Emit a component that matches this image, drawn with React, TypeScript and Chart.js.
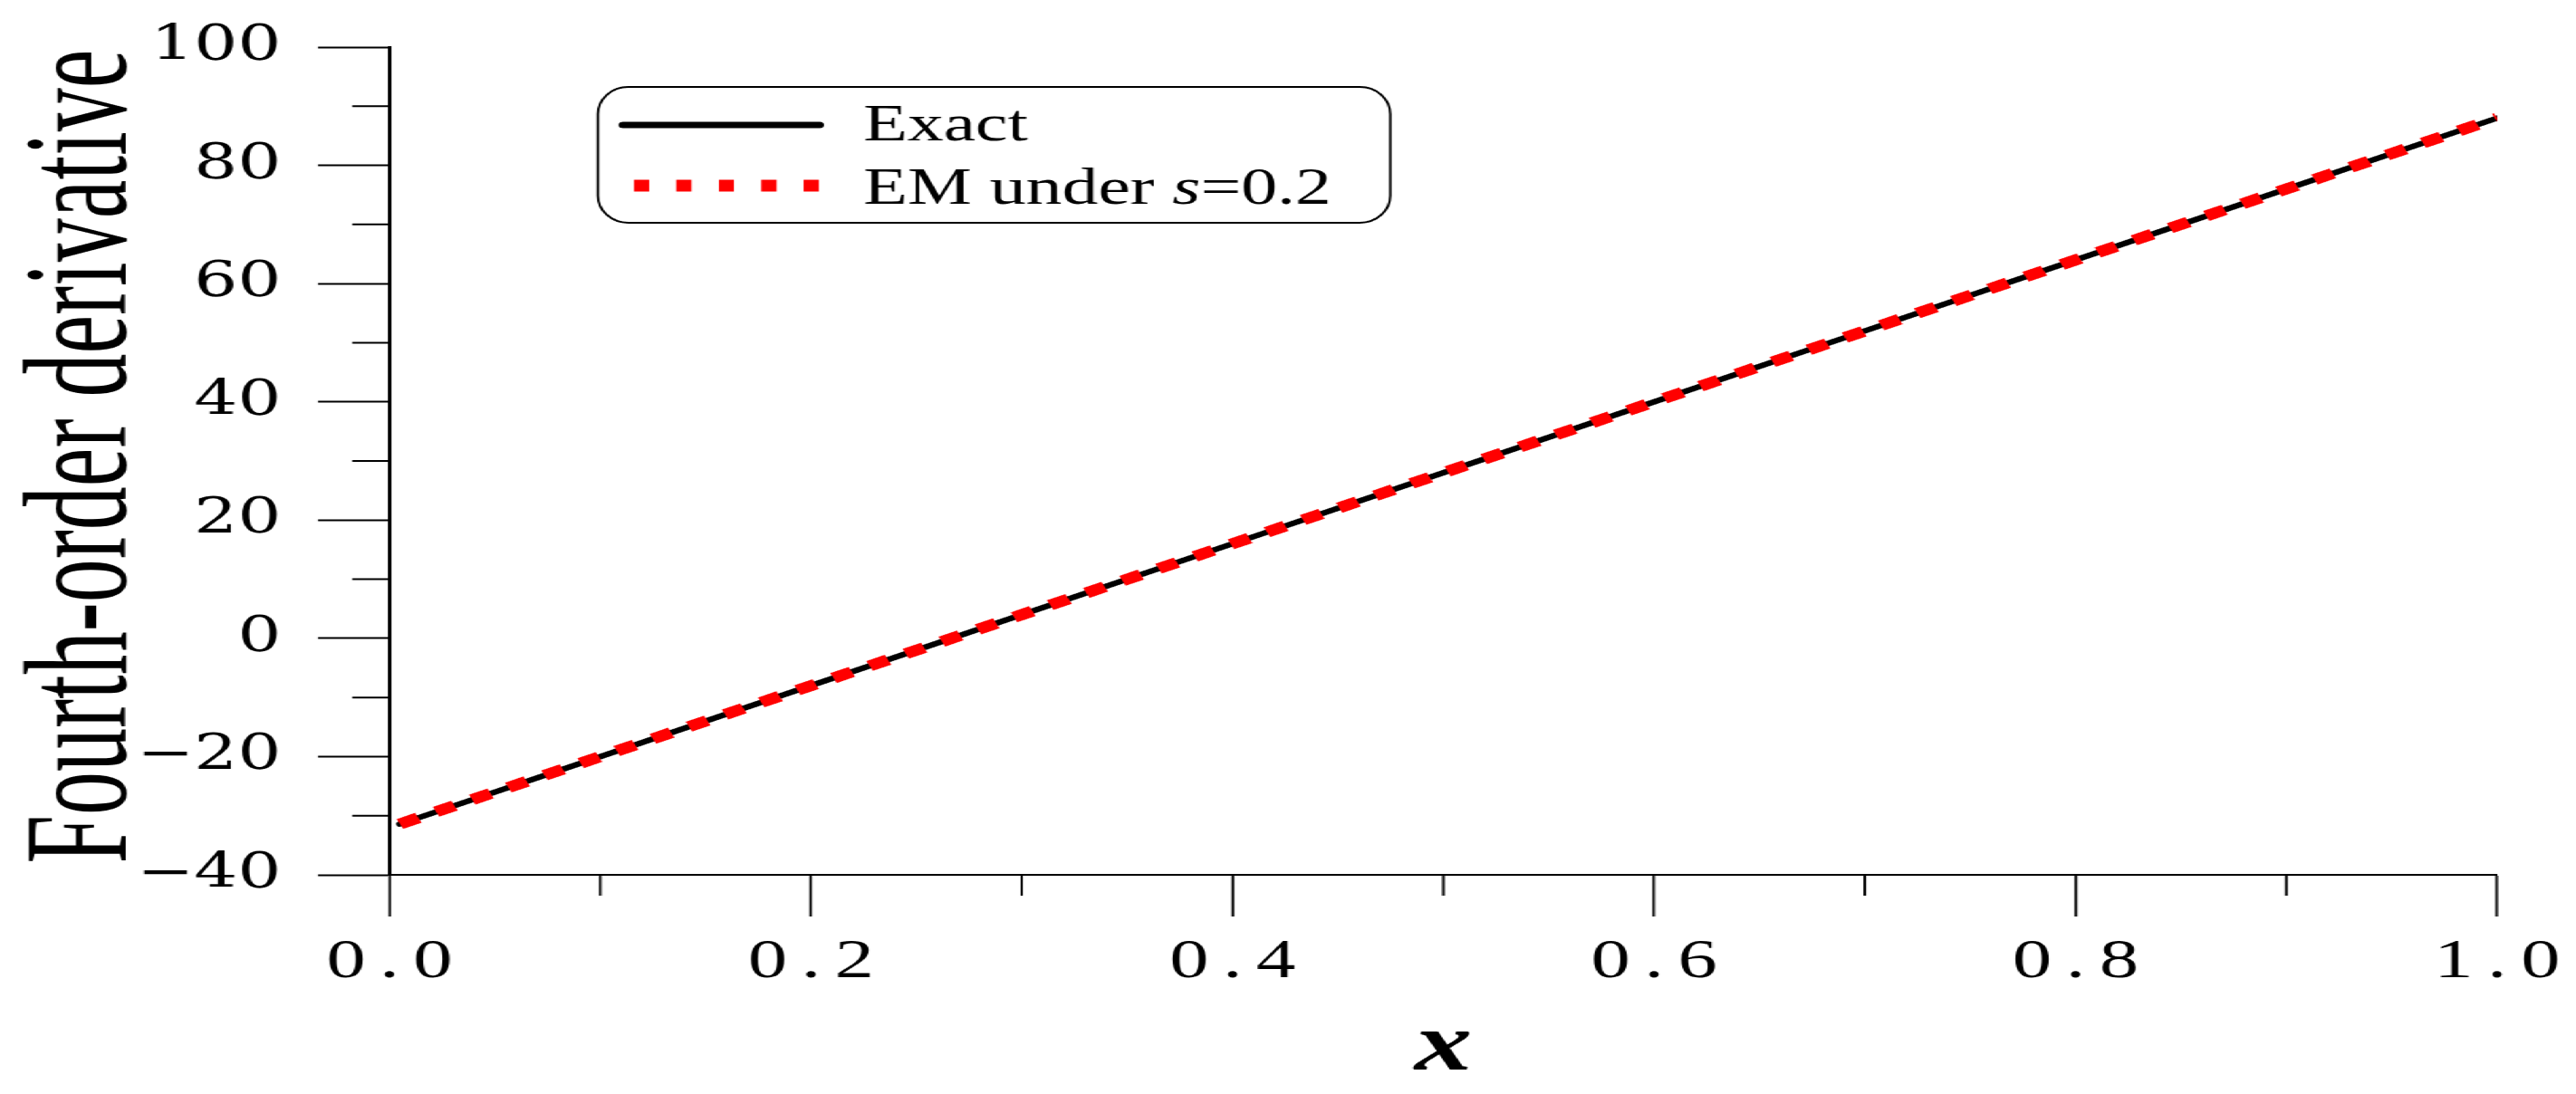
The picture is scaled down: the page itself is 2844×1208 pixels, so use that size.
import React, { useEffect, useRef } from 'react';
import { Chart, registerables } from 'chart.js';

Chart.register(...registerables);

// ---- data ----
const xValues = [0.005, 0.1, 0.2, 0.3, 0.4, 0.5, 0.6, 0.7, 0.8, 0.9, 1.0];
const exactValues = [-31.4, -20.0, -8.0, 4.0, 16.0, 28.0, 40.0, 52.0, 64.0, 76.0, 88.0];
const emValues = [-31.4, -20.0, -8.0, 4.0, 16.0, 28.0, 40.0, 52.0, 64.0, 76.0, 88.0];

const yTickValues = [-40, -20, 0, 20, 40, 60, 80, 100];
const yTickLabels = ['−40', '−20', '0', '20', '40', '60', '80', '100'];
const yMinorTicks = [-30, -10, 10, 30, 50, 70, 90];
const xTickValues = [0, 0.2, 0.4, 0.6, 0.8, 1.0];
const xTickLabels = ['0.0', '0.2', '0.4', '0.6', '0.8', '1.0'];
const xMinorTicks = [0.1, 0.3, 0.5, 0.7, 0.9];

const seriesLabels = ['Exact', 'EM under s=0.2'];
const yTitle = 'Fourth-order derivative';
const xTitle = 'x';

// ---- layout (canvas is drawn narrow and stretched horizontally like the reference) ----
const W = 2032;
const H = 1208;
const S = 2844 / W;

const X_LABEL_SPACING = 11;

function ellRoundRect(ctx: CanvasRenderingContext2D, x: number, y: number, w: number, h: number, rx: number, ry: number) {
  ctx.beginPath();
  ctx.moveTo(x + rx, y);
  ctx.lineTo(x + w - rx, y);
  ctx.ellipse(x + w - rx, y + ry, rx, ry, 0, -Math.PI / 2, 0);
  ctx.lineTo(x + w, y + h - ry);
  ctx.ellipse(x + w - rx, y + h - ry, rx, ry, 0, 0, Math.PI / 2);
  ctx.lineTo(x + rx, y + h);
  ctx.ellipse(x + rx, y + h - ry, rx, ry, 0, Math.PI / 2, Math.PI);
  ctx.lineTo(x, y + ry);
  ctx.ellipse(x + rx, y + ry, rx, ry, 0, Math.PI, Math.PI * 1.5);
  ctx.closePath();
}

const decorPlugin = {
  id: 'decor',
  afterDraw(chart: any) {
    const ctx: CanvasRenderingContext2D = chart.ctx;
    const xs = chart.scales.x;
    const ys = chart.scales.y;
    const area = chart.chartArea;
    ctx.save();
    (ctx as any).letterSpacing = '0px';

    // minor ticks
    ctx.strokeStyle = '#000';
    ctx.lineWidth = 2;
    ctx.lineCap = 'butt';
    ctx.beginPath();
    yMinorTicks.forEach((v) => {
      const p = ys.getPixelForValue(v);
      ctx.moveTo(area.left - 29.3, p);
      ctx.lineTo(area.left, p);
    });
    xMinorTicks.forEach((v) => {
      const p = xs.getPixelForValue(v);
      ctx.moveTo(p, area.bottom);
      ctx.lineTo(p, area.bottom + 23);
    });
    ctx.stroke();

    // y axis title (condensed, rotated)
    ctx.save();
    ctx.translate(98.6, 504);
    ctx.rotate(-Math.PI / 2);
    ctx.font = '116px "Liberation Serif"';
    const tw = ctx.measureText(yTitle).width;
    ctx.scale(899 / tw, 1);
    ctx.textAlign = 'center';
    ctx.textBaseline = 'alphabetic';
    ctx.fillStyle = '#000';
    ctx.fillText(yTitle, 0, 0);
    ctx.restore();

    // legend
    const lx = 471.6, ly = 96, lw = 1096.7 - 471.6, lh = 150;
    ellRoundRect(ctx, lx, ly, lw, lh, 24, 30);
    ctx.fillStyle = '#fff';
    ctx.fill();
    ctx.lineWidth = 2;
    ctx.strokeStyle = '#000';
    ctx.stroke();

    // sample: exact
    ctx.beginPath();
    ctx.lineWidth = 7;
    ctx.lineCap = 'round';
    ctx.strokeStyle = '#000';
    ctx.moveTo(491.5, 138);
    ctx.lineTo(646.5, 138);
    ctx.stroke();

    // sample: EM dashed
    ctx.beginPath();
    ctx.lineWidth = 13;
    ctx.lineCap = 'butt';
    ctx.strokeStyle = '#ff0000';
    ctx.setLineDash([12, 21.5]);
    ctx.moveTo(500, 205);
    ctx.lineTo(646, 205);
    ctx.stroke();
    ctx.setLineDash([]);

    ctx.fillStyle = '#000';
    ctx.textAlign = 'left';
    ctx.textBaseline = 'alphabetic';
    const normal = '57px "Liberation Serif"';
    const italic = 'italic 57px "Liberation Serif"';
    ctx.font = normal;
    ctx.fillText(seriesLabels[0], 681, 155);

    const m = seriesLabels[1].match(/^(.* )(s)(=.*)$/);
    let tx = 681;
    if (m) {
      const parts: [string, string][] = [[m[1], normal], [m[2], italic], [m[3], normal]];
      parts.forEach(([t, f]) => {
        ctx.font = f;
        ctx.fillText(t, tx, 225);
        tx += ctx.measureText(t).width;
      });
    } else {
      ctx.fillText(seriesLabels[1], tx, 225);
    }

    ctx.restore();
  },
};

function patchLabels(scale: any, spacing: number) {
  if (scale.__patched) return;
  const orig = Object.getPrototypeOf(scale).drawLabels;
  scale.drawLabels = function (area: any) {
    const ctx = this.ctx;
    ctx.save();
    ctx.letterSpacing = spacing + 'px';
    ctx.translate(spacing / 2, 0);
    orig.call(this, area);
    ctx.restore();
  };
  scale.__patched = true;
}

export default function App() {
  const ref = useRef<HTMLCanvasElement>(null);

  useEffect(() => {
    const canvas = ref.current;
    if (!canvas) return;
    const chart = new Chart(canvas, {
      type: 'line',
      data: {
        datasets: [
          {
            label: seriesLabels[1],
            data: xValues.map((x, i) => ({ x, y: emValues[i] })),
            borderColor: '#ff0000',
            borderWidth: 12,
            borderDash: [16, 15.5],
            borderCapStyle: 'butt',
            pointRadius: 0,
            fill: false,
            tension: 0,
            order: 1,
          },
          {
            label: seriesLabels[0],
            data: xValues.map((x, i) => ({ x, y: exactValues[i] })),
            borderColor: '#000000',
            borderWidth: 6,
            borderCapStyle: 'round',
            borderJoinStyle: 'round',
            pointRadius: 0,
            fill: false,
            tension: 0,
            order: 2,
          },
        ],
      },
      options: {
        animation: false,
        responsive: true,
        maintainAspectRatio: false,
        devicePixelRatio: 1,
        events: [],
        layout: { padding: { left: 0, right: W - 2757 / S, top: 52, bottom: 0 } },
        plugins: {
          legend: { display: false },
          tooltip: { enabled: false },
        },
        scales: {
          x: {
            type: 'linear',
            min: 0,
            max: 1,
            afterBuildTicks: (s: any) => {
              s.ticks = xTickValues.map((v) => ({ value: v }));
            },
            afterFit: (s: any) => {
              s.height = H - 966;
              s.paddingLeft = 0;
              s.paddingRight = 0;
              patchLabels(s, X_LABEL_SPACING);
            },
            ticks: {
              callback: (_v: any, i: number) => xTickLabels[i],
              font: { family: '"Liberation Serif"', size: 62, lineHeight: 1 },
              color: '#000',
              padding: 20,
              maxRotation: 0,
              minRotation: 0,
              autoSkip: false,
            },
            grid: {
              drawOnChartArea: false,
              drawTicks: true,
              tickLength: 46,
              tickWidth: 2,
              tickColor: '#000',
            },
            border: { display: true, color: '#000', width: 2 },
            title: {
              display: true,
              text: xTitle,
              color: '#000',
              font: { family: '"Liberation Serif"', size: 91, style: 'italic', weight: 'bold', lineHeight: 1 },
              padding: { top: 0, bottom: 5.5 },
            },
          },
          y: {
            type: 'linear',
            min: -40,
            max: 100,
            afterBuildTicks: (s: any) => {
              s.ticks = yTickValues.map((v) => ({ value: v }));
            },
            afterFit: (s: any) => {
              s.width = 430 / S;
              s.paddingTop = 0;
              s.paddingBottom = 0;
            },
            ticks: {
              callback: (_v: any, i: number) => yTickLabels[i],
              font: { family: '"DejaVu Serif"', size: 54, lineHeight: 1 },
              color: '#000',
              padding: 29,
              autoSkip: false,
            },
            grid: {
              drawOnChartArea: false,
              drawTicks: true,
              tickLength: 56.4,
              tickWidth: 2,
              tickColor: '#000',
            },
            border: { display: true, color: '#000', width: 3 },
          },
        },
      } as any,
      plugins: [decorPlugin],
    });
    return () => chart.destroy();
  }, []);

  return (
    <div
      style={{
        position: 'fixed',
        left: 0,
        top: 0,
        width: W,
        height: H,
        transform: `scaleX(${S})`,
        transformOrigin: '0 0',
        background: '#fff',
      }}
    >
      <canvas ref={ref} />
    </div>
  );
}
